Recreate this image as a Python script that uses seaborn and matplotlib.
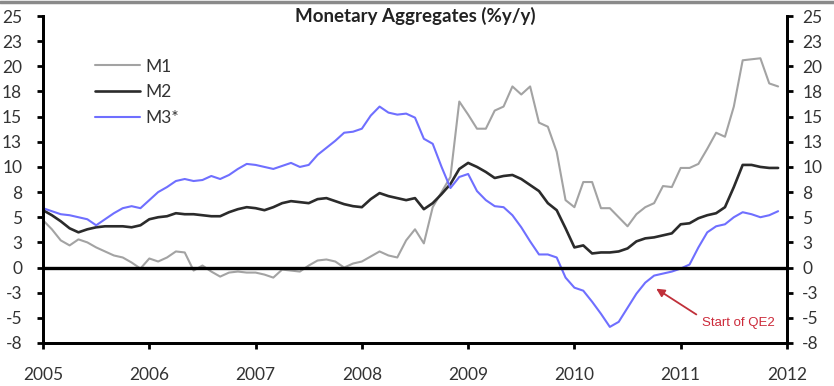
import numpy as np
import pandas as pd
import seaborn as sns
import matplotlib.pyplot as plt
from matplotlib.lines import Line2D

# monthly % y/y, Jan 2005 .. Dec 2011
m1 = [4.7, 3.8, 2.7, 2.2, 2.8, 2.5, 2.0, 1.6, 1.2, 1.0, 0.5, -0.1,
      0.9, 0.6, 1.0, 1.6, 1.5, -0.3, 0.2, -0.4, -0.9, -0.5, -0.4, -0.5,
      -0.5, -0.7, -1.0, -0.2, -0.3, -0.4, 0.2, 0.7, 0.8, 0.6, 0.0, 0.4,
      0.6, 1.1, 1.6, 1.2, 1.0, 2.7, 3.8, 2.4, 6.0, 7.5, 9.0, 16.5,
      15.2, 13.8, 13.8, 15.6, 16.0, 18.0, 17.2, 18.0, 14.4, 14.0, 11.5, 6.7,
      6.0, 8.5, 8.5, 5.9, 5.9, 5.0, 4.1, 5.3, 6.0, 6.4, 8.1, 8.0,
      9.9, 9.9, 10.3, 11.8, 13.4, 13.0, 16.0, 20.6, 20.7, 20.8, 18.3, 18.0]
m2 = [5.7, 5.2, 4.6, 3.9, 3.5, 3.8, 4.0, 4.1, 4.1, 4.1, 4.0, 4.2,
      4.8, 5.0, 5.1, 5.4, 5.3, 5.3, 5.2, 5.1, 5.1, 5.5, 5.8, 6.0,
      5.9, 5.7, 6.0, 6.4, 6.6, 6.5, 6.4, 6.8, 6.9, 6.6, 6.3, 6.1,
      6.0, 6.8, 7.4, 7.1, 6.9, 6.7, 6.9, 5.8, 6.4, 7.3, 8.3, 9.8,
      10.4, 10.0, 9.5, 8.9, 9.1, 9.2, 8.8, 8.2, 7.6, 6.4, 5.7, 3.9,
      2.0, 2.2, 1.4, 1.5, 1.5, 1.6, 1.9, 2.6, 2.9, 3.0, 3.2, 3.4,
      4.3, 4.4, 4.9, 5.2, 5.4, 6.0, 8.0, 10.2, 10.2, 10.0, 9.9, 9.9]
m3 = [5.9, 5.6, 5.3, 5.2, 5.0, 4.8, 4.2, 4.8, 5.4, 5.9, 6.1, 5.9,
      6.7, 7.5, 8.0, 8.6, 8.8, 8.6, 8.7, 9.1, 8.8, 9.2, 9.8, 10.3,
      10.2, 10.0, 9.8, 10.1, 10.4, 10.0, 10.2, 11.2, 11.9, 12.6, 13.4, 13.5,
      13.8, 15.1, 16.0, 15.4, 15.2, 15.3, 14.9, 12.8, 12.3, 10.0, 7.9, 9.0,
      9.3, 7.6, 6.7, 6.1, 6.0, 5.2, 4.0, 2.6, 1.3, 1.3, 1.0, -1.0,
      -2.0, -2.3, -3.4, -4.6, -5.9, -5.4, -4.0, -2.6, -1.5, -0.8, -0.6, -0.4,
      -0.1, 0.3, 2.0, 3.5, 4.1, 4.3, 5.0, 5.5, 5.3, 5.0, 5.2, 5.6]
series_names = ['M1', 'M2', 'M3*']
years = [2005, 2006, 2007, 2008, 2009, 2010, 2011, 2012]
y_ticks = [-7.5, -5, -2.5, 0, 2.5, 5, 7.5, 10, 12.5, 15, 17.5, 20, 22.5, 25]
y_labels = ['-8', '-5', '-3', '0', '3', '5', '8', '10', '13', '15', '18', '20', '23', '25']

t = 2005 + np.arange(len(m1)) / 12
df = pd.DataFrame({'t': np.tile(t, 3),
                   'value': m1 + m2 + m3,
                   'series': np.repeat(series_names, len(m1))})

sns.set_style('white')
plt.rcParams['font.family'] = ['Lato', 'DejaVu Sans']
txt = '#333333'

fig = plt.figure(figsize=(8.34, 3.86), dpi=100)
ax = fig.add_axes([0.0516, 0.1114, 0.8920, 0.8471])

colors = {'M1': '#a3a3a3', 'M2': '#2b2b2b', 'M3*': '#6f6fff'}
widths = {'M1': 1.5, 'M2': 1.9, 'M3*': 1.5}
for name in series_names:
    sns.lineplot(data=df[df['series'] == name], x='t', y='value', ax=ax,
                 color=colors[name], linewidth=widths[name], label=name)

ax.axhline(0, color='black', linewidth=2.4, zorder=3)

ax.set_xlim(2005, 2012)
ax.set_ylim(-7.5, 25)
ax.set_xticks(years)
ax.set_xticklabels([str(y) for y in years])
ax.set_yticks(y_ticks)
ax.set_yticklabels(y_labels)
ax.set_xlabel('')
ax.set_ylabel('')

ax2 = ax.twinx()
ax2.set_ylim(-7.5, 25)
ax2.set_yticks(y_ticks)
ax2.set_yticklabels(y_labels)

for a in (ax, ax2):
    a.spines['top'].set_visible(False)
    for s in ('left', 'right', 'bottom'):
        a.spines[s].set_color('black')
        a.spines[s].set_linewidth(2)
ax.tick_params(axis='x', direction='out', length=4, width=2, color='black',
               labelsize=12.5, labelcolor=txt, pad=13, bottom=True)
ax.tick_params(axis='y', direction='out', length=4, width=2, color='black',
               labelsize=12.5, labelcolor=txt, pad=11, left=True)
ax2.tick_params(axis='y', direction='out', length=4, width=2, color='black',
                labelsize=12.5, labelcolor=txt, pad=7, right=True)

ax.set_title('Monetary Aggregates (%y/y)', fontsize=13.5, fontweight='bold',
             color='#222222', y=0.955)

ax.legend(loc='upper left', bbox_to_anchor=(0.07, 0.87), frameon=False,
          fontsize=12.5, handlelength=2.6, handletextpad=0.3,
          labelspacing=0.55, borderpad=0, borderaxespad=0, labelcolor=txt)

ax.annotate('Start of QE2', xy=(2010.77, -2.1), xytext=(2011.2, -5.5),
            fontsize=9.5, color='#cc2a3a', family=['Liberation Sans'],
            ha='left', va='center',
            arrowprops=dict(arrowstyle='-|>', color='#c0303a', lw=1.3,
                            shrinkA=2, shrinkB=0, mutation_scale=12,
                            relpos=(0, 0.9)))

fig.add_artist(Line2D([0, 1], [0.995, 0.995], transform=fig.transFigure,
                      color='#8a8a8a', linewidth=2.5))

fig.savefig('out.png', dpi=100)
plt.close(fig)
